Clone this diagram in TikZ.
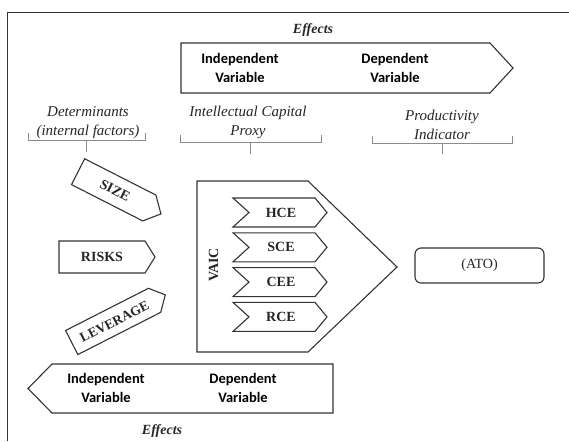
\documentclass[tikz,border=0pt]{standalone}
\usepackage{fontspec}
\setmainfont{Liberation Serif}
\newfontfamily\calibri{Carlito}
\definecolor{framecolor}{HTML}{333333}
\definecolor{bracecolor}{HTML}{8C8C8C}
\definecolor{textcolor}{HTML}{262626}

\begin{document}
\begin{tikzpicture}[
    x=1pt, y=-1pt,
    line join=miter,
    shapeline/.style={draw=framecolor, line width=1.1pt},
    brace/.style={draw=bracecolor, line width=0.8pt},
    effect/.style={font=\fontsize{14}{16}\selectfont\bfseries\itshape, text=textcolor},
    heading/.style={font=\fontsize{15}{19}\selectfont\itshape, align=center, text=textcolor},
    varlabel/.style={font=\calibri\bfseries\fontsize{14.5}{19}\selectfont, align=center},
    taglabel/.style={font=\fontsize{14}{16}\selectfont\bfseries, text=textcolor}
]

    % Page and outer frame (right and bottom edges run off the page)
    \useasboundingbox (0,0) rectangle (569,441);
    \fill[white] (0,0) rectangle (569,441);
    \draw[framecolor, line width=0.9pt] (569,12) -- (7,12) -- (7,441);

    % --- TOP EFFECTS ARROW ---
    \draw[shapeline] (181,43) -- (490,43) -- (513,68) -- (490,93) -- (181,93) -- cycle;
    \node[effect] (effTop) at (313,30) {Effects};
    \node[varlabel] (indepTop) at (240,67.5) {Independent\\Variable};
    \node[varlabel] (depTop) at (395,67.5) {Dependent\\Variable};

    % --- HEADINGS WITH BRACKETS ---
    \node[heading] (detHead) at (88,122.5) {Determinants\\(internal factors)};
    \draw[brace] (28,133) -- (28,140) -- (145,140) -- (145,133);
    \draw[brace] (86.5,140) -- (86.5,152);

    \node[heading] (icHead) at (248,122.5) {Intellectual Capital\\Proxy};
    \draw[brace] (180,135) -- (180,142.5) -- (321,142.5) -- (321,135);
    \draw[brace] (250,142.5) -- (250,154);

    \node[heading] (prodHead) at (442,124.5) {Productivity\\Indicator};
    \draw[brace] (372,136) -- (372,143) -- (512,143) -- (512,136);
    \draw[brace] (442,143) -- (442,154);

    % --- DETERMINANTS (left tags) ---
    % Size tag tilted down
    \begin{scope}[shift={(119.5,192.8)}, rotate=-27]
        \draw[shapeline] (-46.5,-14.5) -- (33.5,-14.5) -- (46.5,0) -- (33.5,14.5) -- (-46.5,14.5) -- cycle;
        \node[taglabel, rotate=-27] (size) at (-5,0) {SIZE};
    \end{scope}

    % Risks tag level
    \draw[shapeline] (59,241) -- (145,241) -- (155,257) -- (145,273) -- (59,273) -- cycle;
    \node[taglabel] (risks) at (102,257) {RISKS};

    % Leverage tag tilted up
    \begin{scope}[shift={(118.5,318.7)}, rotate=27]
        \draw[shapeline] (-52.5,-13.5) -- (40.5,-13.5) -- (52.5,0) -- (40.5,13.5) -- (-52.5,13.5) -- cycle;
        \node[taglabel, rotate=27, font=\fontsize{13.5}{16}\selectfont\bfseries] (leverage) at (-5,1) {LEVERAGE};
    \end{scope}

    % --- VAIC BLOCK ---
    \draw[shapeline] (197,181) -- (308,181) -- (397,267) -- (308,352) -- (197,352) -- cycle;
    \node[taglabel, rotate=90] (vaic) at (213.5,265) {VAIC};
    \foreach \lab [count=\i from 0] in {HCE,SCE,CEE,RCE} {
        \pgfmathsetmacro{\yc}{212.5+34.8*\i}
        \draw[shapeline] (233,\yc-14.5) -- (315,\yc-14.5) -- (327,\yc) -- (315,\yc+14.5) -- (233,\yc+14.5) -- (249,\yc) -- cycle;
        \node[taglabel] (\lab) at (281,\yc) {\lab};
    }

    % --- PRODUCTIVITY INDICATOR ---
    \draw[shapeline, rounded corners=6pt] (415,248) rectangle (544,283);
    \node[font=\fontsize{14}{16}\selectfont, text=textcolor] (ato) at (479.5,265.5) {(ATO)};

    % --- BOTTOM EFFECTS ARROW ---
    \draw[shapeline] (52,364) -- (333,364) -- (333,413) -- (52,413) -- (28,388.5) -- cycle;
    \node[varlabel] (indepBot) at (106,387.5) {Independent\\Variable};
    \node[varlabel] (depBot) at (243,387.5) {Dependent\\Variable};
    \node[effect] (effBot) at (162,431) {Effects};

\end{tikzpicture}
\end{document}
